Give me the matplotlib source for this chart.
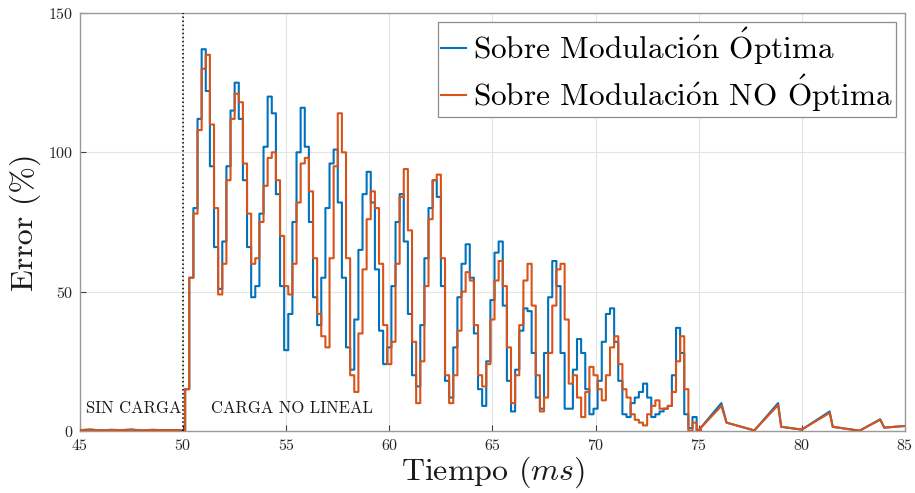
import numpy as np
import matplotlib
matplotlib.use("Agg")
import matplotlib.pyplot as plt

plt.rcParams['font.family'] = ['cmr10', 'DejaVu Serif']
plt.rcParams['mathtext.fontset'] = 'cm'
plt.rcParams['axes.formatter.use_mathtext'] = True

# series labels
label_opt = r'Sobre Modulaci$\acute{\rm o}$n $\acute{\rm O}$ptima'
label_noopt = r'Sobre Modulaci$\acute{\rm o}$n NO $\acute{\rm O}$ptima'

# before the load is connected (linear segments)
t_pre = [45.0, 45.5, 46.0, 46.5, 47.0, 47.5, 48.0, 48.5, 49.0, 49.5, 50.1]
e_pre = [0.3, 0.5, 0.2, 0.4, 0.3, 0.5, 0.2, 0.4, 0.3, 0.3, 0.2]

# sampled error after the load step, 0.2 ms hold steps starting at 50.1 ms
t0_step = 50.1
dt_step = 0.2
e_opt = [
    15, 55, 80, 112, 137, 122, 95, 66, 51, 68,        # 50.2 - 52.0
    95, 115, 125, 112, 90, 66, 48, 52, 78, 102,       # 52.2 - 54.0
    120, 114, 85, 52, 29, 42, 75, 100, 116, 102,      # 54.2 - 56.0
    75, 48, 38, 55, 80, 96, 101, 82, 55, 30,          # 56.2 - 58.0
    22, 40, 65, 85, 93, 82, 58, 36, 24, 30,           # 58.2 - 60.0
    52, 75, 85, 68, 42, 20, 16, 38, 62, 80,           # 60.2 - 62.0
    90, 84, 52, 18, 12, 30, 48, 60, 67, 55,           # 62.2 - 64.0
    35, 15, 9, 25, 47, 64, 68, 45, 18, 7,             # 64.2 - 66.0
    22, 36, 44, 43, 28, 12, 8, 28, 48, 61,            # 66.2 - 68.0
    52, 28, 8, 8, 22, 33, 28, 15, 6, 8,               # 68.2 - 70.0
    18, 32, 42, 44, 32, 18, 6, 5, 10, 12,             # 70.2 - 72.0
    14, 17, 12, 5, 6, 7, 8, 9, 20, 37,                # 72.2 - 74.0
    28, 6, 1, 5, 0.3,                                 # 74.2 - 75.0
]
e_noopt = [
    15, 55, 78, 108, 130, 135, 110, 80, 49, 60,       # 50.2 - 52.0
    90, 112, 121, 118, 96, 78, 60, 62, 75, 88,        # 52.2 - 54.0
    98, 100, 90, 70, 52, 49, 60, 82, 96, 98,          # 54.2 - 56.0
    86, 62, 42, 34, 30, 62, 95, 114, 100, 62,         # 56.2 - 58.0
    20, 14, 35, 58, 76, 86, 80, 60, 38, 24,           # 58.2 - 60.0
    32, 60, 84, 94, 72, 32, 10, 25, 52, 76,           # 60.2 - 62.0
    90, 92, 62, 20, 10, 20, 36, 50, 57, 54,           # 62.2 - 64.0
    38, 20, 16, 24, 40, 54, 61, 52, 30, 10,           # 64.2 - 66.0
    20, 38, 54, 60, 45, 20, 7, 12, 28, 45,            # 66.2 - 68.0
    58, 60, 40, 17, 20, 12, 5, 14, 23, 20,            # 68.2 - 70.0
    15, 11, 20, 30, 34, 24, 15, 12, 6, 4,             # 70.2 - 72.0
    3, 2, 6, 9, 11, 8, 8, 9, 14, 25,                  # 72.2 - 74.0
    34, 15, 0, 3, 0.3,                                # 74.2 - 75.0
]

# decaying tail after the transient (linear segments)
t_tail = [75.0, 76.1, 76.35, 77.7, 78.85, 79.0, 80.0, 81.35, 81.5, 82.8, 83.8, 84.0, 85.0]
e_tail_opt = [0.3, 10, 3, 0.2, 10, 1.5, 0.5, 7, 1.5, 0.1, 4.2, 1.2, 1.8]
e_tail_noopt = [0.3, 9, 3, 0.2, 9.3, 1.5, 0.5, 6.5, 1.5, 0.1, 4, 1.2, 1.8]

x_ticks = [45, 50, 55, 60, 65, 70, 75, 80, 85]
y_ticks = [0, 50, 100, 150]

c_opt = '#0072BD'
c_noopt = '#D95319'
axis_grey = '#9a9a9a'
lw = 1.5


def build_series(e_step, e_tail):
    n = len(e_step)
    t_s = t0_step + dt_step * np.arange(n + 1)
    # hold each sample for one step
    t_h = np.repeat(t_s, 2)[1:-1]
    e_h = np.repeat(e_step, 2)
    t = np.concatenate([t_pre, t_h, t_tail])
    e = np.concatenate([e_pre, e_h, e_tail])
    return t, e


fig = plt.figure(figsize=(9.15, 4.93), dpi=100)
ax = fig.add_axes([0.0874, 0.1258, 0.9016, 0.8478])

t_b, e_b = build_series(e_opt, e_tail_opt)
t_o, e_o = build_series(e_noopt, e_tail_noopt)
ax.plot(t_b, e_b, color=c_opt, lw=lw, label=label_opt, zorder=3)
ax.plot(t_o, e_o, color=c_noopt, lw=lw, label=label_noopt, zorder=4)

ax.axvline(50, color='black', ls=':', lw=1.1, zorder=5)

ax.text(47.6, 8, 'SIN CARGA', ha='center', va='center', fontsize=12, color='#1a1a1a')
ax.text(55.3, 8, 'CARGA NO LINEAL', ha='center', va='center', fontsize=12, color='#1a1a1a')

ax.set_xlim(45, 85)
ax.set_ylim(0, 150)
ax.set_xticks(x_ticks)
ax.set_yticks(y_ticks)
ax.tick_params(direction='in', length=4, width=0.8, color='#404040',
               labelsize=11.5, labelcolor='#262626', pad=5)
ax.grid(True, color='#e4e4e4', lw=0.8)
ax.set_axisbelow(True)
for s in ax.spines.values():
    s.set_color(axis_grey)
    s.set_linewidth(1.0)

ax.set_xlabel(r'Tiempo ($ms$)', fontsize=23, color='#1a1a1a', labelpad=1)
ax.set_ylabel('Error (%)', fontsize=23, color='#1a1a1a', labelpad=5)

leg = ax.legend(loc='upper right', fontsize=22.5, handlelength=0.8, handletextpad=0.2,
                borderpad=0.1, labelspacing=0.15, borderaxespad=0.3,
                fancybox=False, framealpha=1.0, edgecolor='#8c8c8c')
leg.get_frame().set_linewidth(0.9)

fig.savefig('out.png', dpi=100)
